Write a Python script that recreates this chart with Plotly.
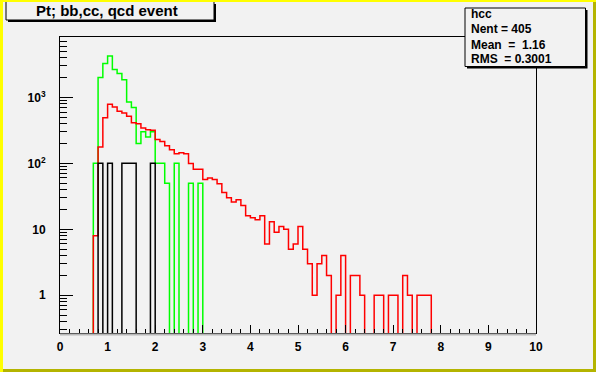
import plotly.graph_objects as go

# ---------------- data ----------------
bin_width = 0.1
x_min, x_max = 0.0, 10.0

# green histogram (bins starting at 0.7)
green_start = 0.7
green_counts = [100, 2000, 3250, 4250, 2650, 2300, 1850, 850, 700, 200, 300, 250,
                300, 100, 100, 50, 0, 100, 0, 0, 50, 0, 50]

# red histogram (bins starting at 0.7)
red_start = 0.7
red_counts = [8, 177, 492, 783, 713, 614, 578, 515, 413, 399, 343, 324, 316,
              229, 215, 185, 161, 140, 145, 140, 99, 81, 81, 57, 60, 57, 49,
              36, 30, 26, 28, 23, 16, 15, 14, 16, 6, 13, 9, 11, 10, 5, 6, 11,
              5, 3, 1, 3, 4, 2, 0, 1, 4, 0, 2, 2, 1, 0, 0, 1, 1, 0, 1, 1, 0,
              2, 1, 0, 1, 1, 1]

# black histogram (bins starting at 0.8)
black_start = 0.8
black_counts = [100, 0, 100, 0, 0, 100, 100, 100, 0, 0, 0, 100]

y_tick_vals = [1, 10, 100, 1000]
y_tick_text = ["1", "10", "10<sup>2</sup>", "10<sup>3</sup>"]
x_tick_vals = [0, 1, 2, 3, 4, 5, 6, 7, 8, 9, 10]

title_text = "Pt; bb,cc, qcd event"
stats_name = "hcc"
stats_lines = ["Nent\u00a0=\u00a0405", "Mean\u00a0\u00a0=\u00a0\u00a01.16", "RMS\u00a0\u00a0=\u00a00.3001"]

# ---------------- helpers ----------------
n_bins = int(round((x_max - x_min) / bin_width))
edges = [round(x_min + i * bin_width, 4) for i in range(n_bins + 1)]
FLOOR = 1e-4  # stand-in for empty bins on a log axis (drawn below the frame)


def full_hist(start, counts):
    vals = [0.0] * n_bins
    i0 = int(round((start - x_min) / bin_width))
    for k, c in enumerate(counts):
        vals[i0 + k] = c
    return vals


def step_xy(vals):
    xs = [edges[0]]
    ys = [FLOOR]
    for i, v in enumerate(vals):
        xs.append(edges[i])
        ys.append(v if v > 0 else FLOOR)
    xs.append(edges[-1])
    ys.append(FLOOR)
    return xs, ys


fig = go.Figure()
for counts, start, color in [(green_counts, green_start, "#00ff00"),
                             (red_counts, red_start, "#ff0000"),
                             (black_counts, black_start, "#000000")]:
    xs, ys = step_xy(full_hist(start, counts))
    fig.add_trace(go.Scatter(x=xs, y=ys, mode="lines", line_shape="hv",
                             line=dict(color=color, width=1.5),
                             showlegend=False, hoverinfo="skip"))

W, H = 596, 372
L, R, T, B = 60, 536, 37, 333


def px(x):
    return (x - L) / (R - L)


def py(y):
    return (B - y) / (B - T)


minor_y = ([m * 0.1 for m in range(3, 10)] + [m for m in range(2, 10)] +
           [m * 10 for m in range(2, 10)] + [m * 100 for m in range(2, 10)] +
           [m * 1000 for m in range(2, 9)])

FONT = "Liberation Sans, Arial, Helvetica, sans-serif"
BG = "#f2f2f2"

fig.update_layout(
    width=W, height=H,
    margin=dict(l=L, r=W - R, t=T, b=H - B, pad=0, autoexpand=False),
    paper_bgcolor=BG, plot_bgcolor=BG,
    font=dict(family=FONT, size=12, color="black"),
    xaxis=dict(range=[x_min, x_max], tickvals=x_tick_vals, ticks="inside",
               ticklen=8, tickwidth=1, tickcolor="black", automargin=False,
               minor=dict(dtick=0.2, ticks="inside", ticklen=4, tickcolor="black"),
               showgrid=False, zeroline=False, showline=True, linecolor="black",
               linewidth=1, mirror=True, tickfont=dict(size=12, weight="bold"),
               ticklabelstandoff=3),
    yaxis=dict(type="log", range=[-0.572, 3.915], tickvals=y_tick_vals,
               ticktext=y_tick_text, ticks="inside", ticklen=13, tickwidth=1,
               tickcolor="black", automargin=False,
               minor=dict(tickvals=minor_y, ticks="inside", ticklen=7, tickcolor="black"),
               showgrid=False, zeroline=False, showline=True, linecolor="black",
               linewidth=1, mirror=True, tickfont=dict(size=12, weight="bold"),
               ticklabelstandoff=11),
)

shapes = []
# frame bevel under x axis
shapes.append(dict(type="line", xref="paper", yref="paper", x0=px(L), x1=px(R),
                   y0=py(B + 1.5), y1=py(B + 1.5), line=dict(color="#b8b8b8", width=2)))
# canvas border (yellow bevel)
shapes.append(dict(type="rect", xref="paper", yref="paper", x0=px(0), x1=px(3),
                   y0=py(H), y1=py(0), fillcolor="#ffff00", line=dict(width=0)))
shapes.append(dict(type="rect", xref="paper", yref="paper", x0=px(W - 3), x1=px(W),
                   y0=py(H), y1=py(2), fillcolor="#b4b400", line=dict(width=0)))
shapes.append(dict(type="rect", xref="paper", yref="paper", x0=px(3), x1=px(W),
                   y0=py(H), y1=py(H - 3), fillcolor="#b4b400", line=dict(width=0)))
# title box with shadow
shapes.append(dict(type="rect", xref="paper", yref="paper", x0=px(8), x1=px(216),
                   y0=py(22), y1=py(4), fillcolor="black", line=dict(width=0)))
shapes.append(dict(type="rect", xref="paper", yref="paper", x0=px(6), x1=px(214),
                   y0=py(20), y1=py(1), fillcolor=BG, line=dict(color="black", width=1)))
# stats box with shadow
shapes.append(dict(type="rect", xref="paper", yref="paper", x0=px(467), x1=px(587.5),
                   y0=py(68.5), y1=py(10), fillcolor="black", line=dict(width=0)))
shapes.append(dict(type="rect", xref="paper", yref="paper", x0=px(465), x1=px(585.5),
                   y0=py(66.5), y1=py(8), fillcolor=BG, line=dict(color="black", width=1)))
# yellow top strip over the title box
shapes.append(dict(type="rect", xref="paper", yref="paper", x0=px(0), x1=px(W),
                   y0=py(2), y1=py(0), fillcolor="#ffff00", line=dict(width=0)))
fig.update_layout(shapes=shapes)

ann = []
ann.append(dict(text=title_text, xref="paper", yref="paper", x=px(107), y=py(11),
                xanchor="center", yanchor="middle", showarrow=False,
                font=dict(size=15, family=FONT, weight="bold")))
ann.append(dict(text=stats_name, xref="paper", yref="paper", x=px(469), y=py(14),
                xanchor="left", yanchor="middle", showarrow=False,
                font=dict(size=12, family=FONT, weight="bold")))
for k, line in enumerate(stats_lines):
    ann.append(dict(text=line, xref="paper", yref="paper", x=px(469), y=py(29.5 + 15 * k),
                    xanchor="left", yanchor="middle", showarrow=False,
                    font=dict(size=12, family=FONT, weight="bold")))
fig.update_layout(annotations=ann)

fig.write_html("out.html", config={"displayModeBar": False},
               post_script="document.body.style.margin='0px';document.body.style.padding='0px';")
